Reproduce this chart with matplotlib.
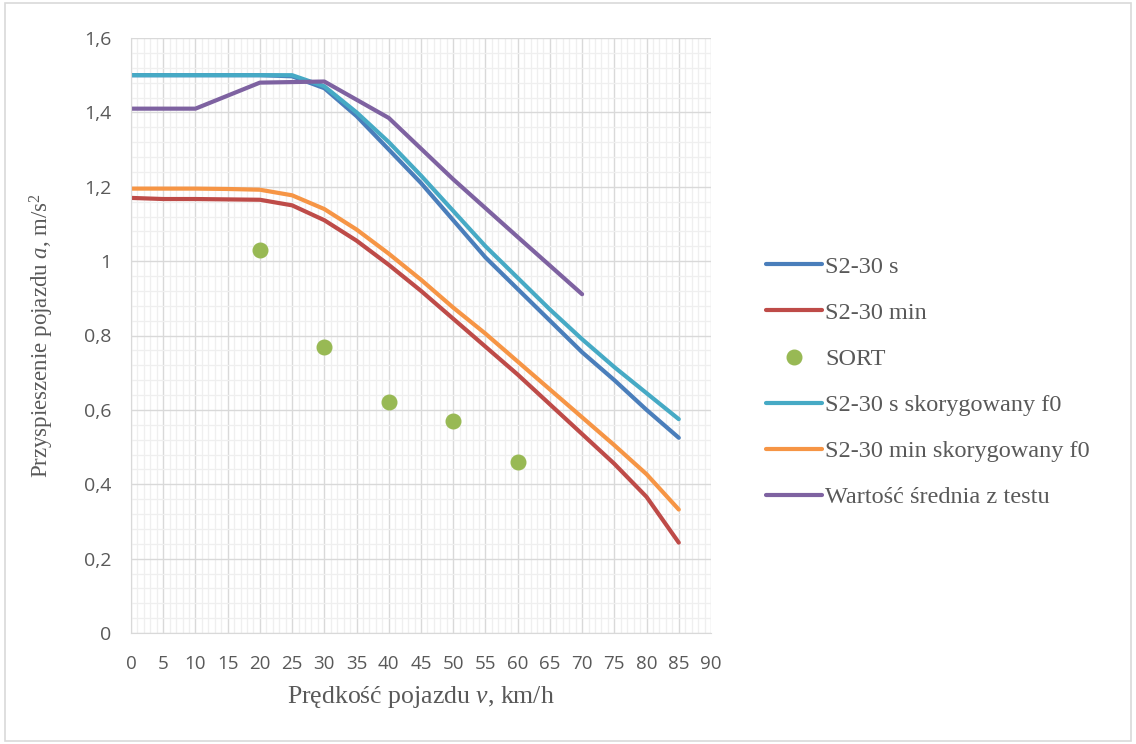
import matplotlib
matplotlib.use("Agg")
import matplotlib.pyplot as plt
from matplotlib.ticker import MultipleLocator, FuncFormatter
from matplotlib.patches import Rectangle

plt.rcParams['mathtext.fontset'] = 'custom'
plt.rcParams['mathtext.rm'] = 'Liberation Serif'
plt.rcParams['mathtext.it'] = 'Liberation Serif:italic'

# speeds (km/h)
v = [0, 5, 10, 15, 20, 25, 30, 35, 40, 45, 50, 55, 60, 65, 70, 75, 80, 85]
s2_30_s = [1.5, 1.5, 1.5, 1.5, 1.5, 1.497, 1.465, 1.39, 1.30, 1.21, 1.11, 1.01,
           0.925, 0.84, 0.755, 0.68, 0.60, 0.525]
s2_30_min = [1.17, 1.167, 1.167, 1.166, 1.165, 1.15, 1.11, 1.055, 0.99, 0.92,
             0.845, 0.77, 0.695, 0.615, 0.535, 0.455, 0.366, 0.243]
s2_30_s_f0 = [1.5, 1.5, 1.5, 1.5, 1.5, 1.5, 1.47, 1.40, 1.32, 1.23, 1.135, 1.04,
              0.955, 0.87, 0.79, 0.715, 0.645, 0.575]
s2_30_min_f0 = [1.195, 1.195, 1.195, 1.194, 1.192, 1.177, 1.14, 1.085, 1.02,
                0.95, 0.875, 0.805, 0.73, 0.655, 0.58, 0.505, 0.427, 0.332]
v_test = [0, 10, 20, 30, 40, 50, 60, 70]
test_mean = [1.41, 1.41, 1.48, 1.483, 1.385, 1.22, 1.065, 0.911]
v_sort = [20, 30, 40, 50, 60]
sort_vals = [1.03, 0.77, 0.62, 0.57, 0.46]

fig = plt.figure(figsize=(11.36, 7.44), dpi=100)
ax = fig.add_axes([131/1136, 1 - 633/744, 580/1136, 595/744])

# chart border
fig.patches.append(Rectangle((0.004, 0.004), 0.992, 0.992, transform=fig.transFigure,
                             fill=False, edgecolor='#d9d9d9', linewidth=1.2))

lw = 3.0
ax.plot(v, s2_30_s, color='#4a7ebb', lw=lw, label='S2-30 s', solid_capstyle='round')
ax.plot(v, s2_30_min, color='#be4b48', lw=lw, label='S2-30 min', solid_capstyle='round')
ax.plot(v_sort, sort_vals, 'o', color='#98b954', markersize=10.5, label='SORT')
ax.plot(v, s2_30_s_f0, color='#46aac5', lw=lw, label='S2-30 s skorygowany f0', solid_capstyle='round')
ax.plot(v, s2_30_min_f0, color='#f69545', lw=lw, label='S2-30 min skorygowany f0', solid_capstyle='round')
ax.plot(v_test, test_mean, color='#7e62a1', lw=lw, label='Wartość średnia z testu', solid_capstyle='round')

ax.set_xlim(0, 90)
ax.set_ylim(0, 1.6)
ax.xaxis.set_major_locator(MultipleLocator(5))
ax.xaxis.set_minor_locator(MultipleLocator(1))
ax.yaxis.set_major_locator(MultipleLocator(0.2))
ax.yaxis.set_minor_locator(MultipleLocator(0.04))
ax.yaxis.set_major_formatter(FuncFormatter(lambda y, p: ('%g' % round(y, 2)).replace('.', ',')))

ax.grid(which='major', color='#d9d9d9', lw=1.0)
ax.grid(which='minor', color='#efefef', lw=0.9)
ax.set_axisbelow(True)
for s in ax.spines.values():
    s.set_visible(False)
ax.spines['bottom'].set_visible(True)
ax.spines['bottom'].set_color('#d9d9d9')
ax.spines['left'].set_visible(True)
ax.spines['left'].set_color('#d9d9d9')
ax.tick_params(which='both', length=0)
ax.tick_params(axis='x', pad=16, labelsize=13.5, labelcolor='#595959')
ax.tick_params(axis='y', pad=14, labelsize=14, labelcolor='#595959')
for t in ax.get_xticklabels() + ax.get_yticklabels():
    t.set_family('Open Sans')

ax.set_xlabel('Prędkość pojazdu $\\mathit{v}$, km/h', family='Liberation Serif',
              fontsize=18.5, color='#595959', labelpad=8)
ax.set_ylabel('Przyspieszenie pojazdu $\\mathit{a}$, m/s$^2$', family='Liberation Serif',
              fontsize=16.5, color='#595959', labelpad=20)

leg = fig.legend(loc='upper left', bbox_to_anchor=(744/1136, 1 - 234/744), frameon=False,
                 prop={'family': 'Liberation Serif', 'size': 17.5}, labelspacing=0.99,
                 handlelength=2.3, handletextpad=0.15)
for t in leg.get_texts():
    t.set_color('#595959')

fig.savefig('out.png', dpi=100)
